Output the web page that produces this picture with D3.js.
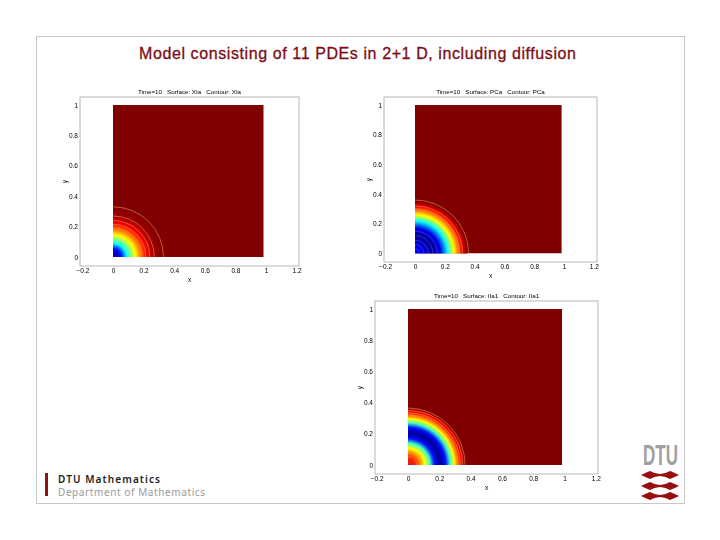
<!DOCTYPE html>
<html>
<head>
<meta charset="utf-8">
<script src="https://cdn.jsdelivr.net/npm/d3@7"></script>
<style>
  body { margin: 0; background: #fff; }
  text { font-family: "Liberation Sans", Arial, sans-serif; }
</style>
</head>
<body>
<div class="chart"></div>
<script>
// tick labels shared by the three plots
const xTicks = [-0.2, 0, 0.2, 0.4, 0.6, 0.8, 1, 1.2];
const yTicks = [0, 0.2, 0.4, 0.6, 0.8, 1];

// radial profiles: distance from origin -> position on the jet map
const xiaRadii  = [0, 0.03, 0.055, 0.09, 0.145, 0.18, 0.22, 0.27, 0.33];
const xiaValues = [0.02, 0.06, 0.13, 0.37, 0.62, 0.75, 0.87, 0.97, 1];
const xiaContours = [0.33, 0.27, 0.24, 0.215, 0.19];

const pcaRadii  = [0, 0.05, 0.12, 0.17, 0.22, 0.26, 0.29, 0.315, 0.35];
const pcaValues = [0.11, 0.09, 0.02, 0.09, 0.37, 0.62, 0.75, 0.87, 1];
const pcaContours = [0.36, 0.32, 0.30, 0.285, 0.15, 0.12, 0.09, 0.06, 0.03];

const iia1Radii  = [0, 0.04, 0.075, 0.107, 0.14, 0.17, 0.205, 0.24, 0.27, 0.295, 0.315, 0.34, 0.365];
const iia1Values = [0.97, 0.87, 0.75, 0.62, 0.42, 0.12, 0.02, 0.12, 0.42, 0.62, 0.75, 0.87, 1];
const iia1Contours = [0.365, 0.35, 0.335, 0.32, 0.075, 0.055, 0.04, 0.025, 0.012];

const jetStops  = [0, 0.11, 0.36, 0.62, 0.87, 1];
const jetColors = ["#00007f", "#0000ff", "#00ffff", "#ffff00", "#ff0000", "#7f0000"];
const jet = d3.scaleLinear().domain(jetStops).range(jetColors);

const panels = [
  {id: "xia", title: "Time=10   Surface: XIa   Contour: XIa", radii: xiaRadii, values: xiaValues, contours: xiaContours,
   box: {l: 80, t: 97, r: 299, b: 266}, x0: 113, x1: 266, y0: 257, y1: 105},
  {id: "pca", title: "Time=10   Surface: PCa   Contour: PCa", radii: pcaRadii, values: pcaValues, contours: pcaContours,
   box: {l: 384, t: 97, r: 597, b: 262}, x0: 415, x1: 564, y0: 253.5, y1: 105},
  {id: "iia1", title: "Time=10   Surface: IIa1   Contour: IIa1", radii: iia1Radii, values: iia1Values, contours: iia1Contours,
   box: {l: 375, t: 301, r: 598, b: 474}, x0: 408, x1: 564.5, y0: 465, y1: 309}
];
const xEdge = 0.985; // the surface stops a little short of the x=1 tick

const svg = d3.select(".chart").append("svg")
  .attr("width", 720)
  .attr("height", 540);

const defs = svg.append("defs");
defs.append("filter").attr("id", "soft")
  .attr("x", "-5%").attr("y", "-5%").attr("width", "110%").attr("height", "110%")
  .append("feGaussianBlur").attr("stdDeviation", 0.5);

// slide frame
svg.append("rect")
  .attr("x", 36.5).attr("y", 36.5)
  .attr("width", 648).attr("height", 467)
  .attr("fill", "none").attr("stroke", "#c8c8c8");

svg.append("text")
  .attr("x", 139).attr("y", 59)
  .attr("font-size", 16)
  .attr("fill", "#7d0c12")
  .attr("stroke", "#7d0c12").attr("stroke-width", 0.3)
  .attr("textLength", 437)
  .text("Model consisting of 11 PDEs in 2+1 D, including diffusion");

panels.forEach(p => {
  const x = d3.scaleLinear().domain([0, 1]).range([p.x0, p.x1]);
  const y = d3.scaleLinear().domain([0, 1]).range([p.y0, p.y1]);
  const profile = d3.scaleLinear().domain(p.radii).range(p.values);
  const rMax = d3.max(p.radii);

  const g = svg.append("g").attr("filter", "url(#soft)");

  g.append("rect")
    .attr("x", p.box.l).attr("y", p.box.t)
    .attr("width", p.box.r - p.box.l).attr("height", p.box.b - p.box.t)
    .attr("fill", "#fff").attr("stroke", "#b8b8b8").attr("stroke-width", 1);

  defs.append("clipPath").attr("id", "clip-" + p.id)
    .append("rect")
    .attr("x", x(0)).attr("y", y(1))
    .attr("width", x(xEdge) - x(0)).attr("height", y(0) - y(1));

  const grad = defs.append("radialGradient").attr("id", "grad-" + p.id);
  grad.selectAll("stop")
    .data(p.radii)
    .join("stop")
    .attr("offset", d => d / rMax)
    .attr("stop-color", (d, i) => jet(p.values[i]));

  const plot = g.append("g").attr("clip-path", "url(#clip-" + p.id + ")");

  plot.append("rect")
    .attr("x", x(0)).attr("y", y(1))
    .attr("width", x(xEdge) - x(0)).attr("height", y(0) - y(1))
    .attr("fill", jet(1));

  plot.append("ellipse")
    .attr("cx", x(0)).attr("cy", y(0))
    .attr("rx", x(rMax) - x(0)).attr("ry", y(0) - y(rMax))
    .attr("fill", "url(#grad-" + p.id + ")");

  plot.selectAll("ellipse.contour")
    .data(p.contours)
    .join("ellipse")
    .attr("class", "contour")
    .attr("cx", x(0)).attr("cy", y(0))
    .attr("rx", d => x(d) - x(0)).attr("ry", d => y(0) - y(d))
    .attr("fill", "none")
    .attr("stroke", d => profile(Math.min(d, rMax)) < 0.5 ? "#5a70ff" : "#ee8a48")
    .attr("stroke-opacity", d => profile(Math.min(d, rMax)) < 0.5 ? 0.55 : 0.8)
    .attr("stroke-width", 0.8);

  const xAxis = d3.axisBottom(x).tickValues(xTicks).tickSize(0).tickPadding(2).tickFormat(d3.format("~g"));
  const yAxis = d3.axisLeft(y).tickValues(yTicks).tickSize(0).tickPadding(2).tickFormat(d3.format("~g"));

  const gx = g.append("g").attr("transform", "translate(0," + p.box.b + ")").call(xAxis);
  const gy = g.append("g").attr("transform", "translate(" + p.box.l + ",0)").call(yAxis);
  [gx, gy].forEach(a => {
    a.select(".domain").remove();
    a.selectAll("text").attr("font-size", 6.5).attr("font-family", "Liberation Sans").attr("fill", "#000");
  });

  const midX = (p.box.l + p.box.r) / 2;
  g.append("text").attr("x", midX).attr("y", p.box.t - 3)
    .attr("text-anchor", "middle").attr("font-size", 6.2).attr("fill", "#000")
    .style("white-space", "pre")
    .text(p.title);
  g.append("text").attr("x", midX).attr("y", p.box.b + 15.5)
    .attr("text-anchor", "middle").attr("font-size", 6.5).attr("fill", "#000")
    .text("x");
  g.append("text")
    .attr("transform", "translate(" + (p.box.l - 13.5) + "," + (p.box.t + p.box.b) / 2 + ") rotate(-90)")
    .attr("text-anchor", "middle").attr("font-size", 6.5).attr("fill", "#000")
    .text("y");
});

// DTU footer
svg.append("rect").attr("x", 45).attr("y", 473).attr("width", 3).attr("height", 23).attr("fill", "#8a1414");
svg.append("text").attr("x", 58).attr("y", 482.5)
  .attr("font-size", 10).attr("font-weight", 600).attr("fill", "#222")
  .style("font-family", "'Noto Sans'")
  .attr("textLength", 102).text("DTU Mathematics");
svg.append("text").attr("x", 58).attr("y", 496)
  .attr("font-size", 10).attr("fill", "#9a9a9a")
  .style("font-family", "'Noto Sans'")
  .attr("textLength", 147).text("Department of Mathematics");

svg.append("text").attr("x", 643).attr("y", 465)
  .attr("font-size", 30).attr("font-weight", "bold").attr("fill", "#a0a0a0")
  .attr("textLength", 35).attr("lengthAdjust", "spacingAndGlyphs")
  .text("DTU");

const logoRows = [475, 486, 496];
const wave = d3.path();
wave.moveTo(641, 0);
wave.quadraticCurveTo(646, -2.5, 650, -4);
wave.quadraticCurveTo(654, -1.5, 660, -1);
wave.quadraticCurveTo(666, -1.5, 670, -4);
wave.quadraticCurveTo(674, -2.5, 679, 0);
wave.quadraticCurveTo(674, 2.5, 670, 4);
wave.quadraticCurveTo(666, 1.5, 660, 1);
wave.quadraticCurveTo(654, 1.5, 650, 4);
wave.quadraticCurveTo(646, 2.5, 641, 0);
wave.closePath();
svg.selectAll("path.wave")
  .data(logoRows)
  .join("path")
  .attr("class", "wave")
  .attr("d", wave.toString())
  .attr("transform", d => "translate(0," + d + ")")
  .attr("fill", "#990f0f");
</script>
</body>
</html>
